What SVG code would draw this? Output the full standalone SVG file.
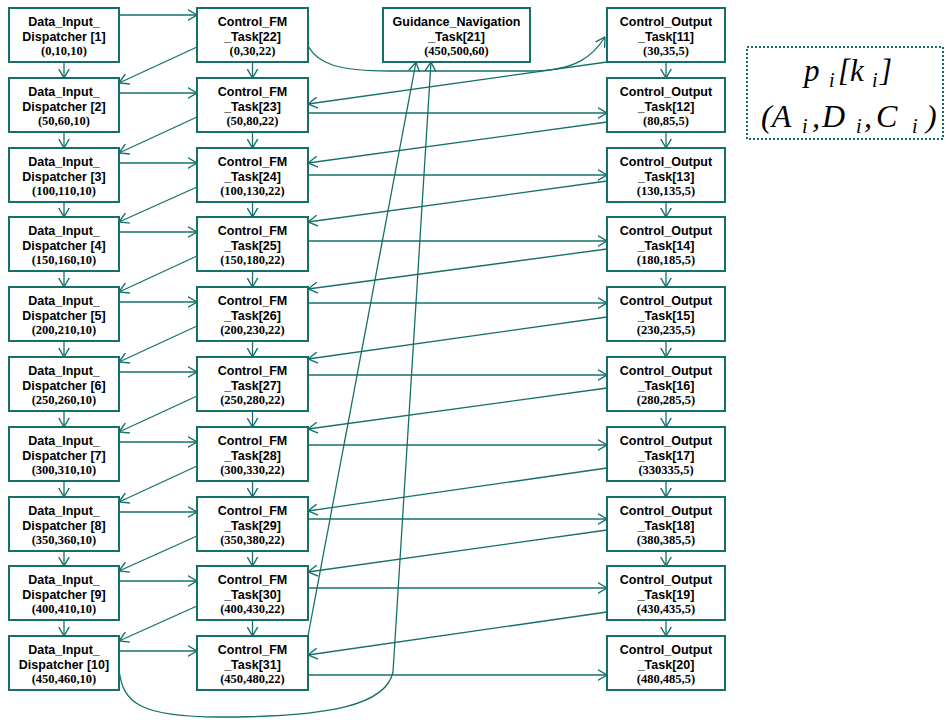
<svg xmlns="http://www.w3.org/2000/svg" width="946" height="720" viewBox="0 0 946 720">
  <defs>
    <style>
      .box { fill: #ffffff; stroke: #16706a; stroke-width: 2; }
      .lbl { font-family: "Liberation Sans", Arial, sans-serif; font-weight: bold; font-size: 12.5px; fill: #000; text-anchor: middle; }
      .num { font-family: "Liberation Serif", "Times New Roman", serif; font-weight: bold; font-size: 12.5px; fill: #000; text-anchor: middle; }
      .edge { fill: none; stroke: #16706a; stroke-width: 1.3; marker-end: url(#arrow); }
      .legend { fill: none; stroke: #16706a; stroke-width: 2; stroke-dasharray: 2 2; }
      .math { font-family: "Liberation Serif", "Times New Roman", serif; font-style: italic; fill: #000; }
    </style>
    <marker id="arrow" markerUnits="userSpaceOnUse" viewBox="0 0 10 12" refX="9.5" refY="6" markerWidth="10" markerHeight="12" orient="auto">
      <path d="M0,0.5 L9.5,6 L0,11.5" fill="none" stroke="#16706a" stroke-width="1.4"/>
    </marker>
  </defs>

  <rect width="946" height="720" fill="#ffffff"/>

  <!-- connectors -->
  <g id="connectors">
    <!-- Data_Input_Dispatcher chain -->
    <line class="edge" x1="64" y1="62" x2="64" y2="78"/>
    <line class="edge" x1="64" y1="132" x2="64" y2="148"/>
    <line class="edge" x1="64" y1="202" x2="64" y2="217"/>
    <line class="edge" x1="64" y1="271" x2="64" y2="287"/>
    <line class="edge" x1="64" y1="341" x2="64" y2="357"/>
    <line class="edge" x1="64" y1="411" x2="64" y2="427"/>
    <line class="edge" x1="64" y1="481" x2="64" y2="497"/>
    <line class="edge" x1="64" y1="551" x2="64" y2="566"/>
    <line class="edge" x1="64" y1="620" x2="64" y2="636"/>
    <!-- Control_FM chain -->
    <line class="edge" x1="252.5" y1="62" x2="252.5" y2="78"/>
    <line class="edge" x1="252.5" y1="132" x2="252.5" y2="148"/>
    <line class="edge" x1="252.5" y1="202" x2="252.5" y2="217"/>
    <line class="edge" x1="252.5" y1="271" x2="252.5" y2="287"/>
    <line class="edge" x1="252.5" y1="341" x2="252.5" y2="357"/>
    <line class="edge" x1="252.5" y1="411" x2="252.5" y2="427"/>
    <line class="edge" x1="252.5" y1="481" x2="252.5" y2="497"/>
    <line class="edge" x1="252.5" y1="551" x2="252.5" y2="566"/>
    <line class="edge" x1="252.5" y1="620" x2="252.5" y2="636"/>
    <!-- Control_Output chain -->
    <line class="edge" x1="666" y1="62" x2="666" y2="78"/>
    <line class="edge" x1="666" y1="132" x2="666" y2="148"/>
    <line class="edge" x1="666" y1="202" x2="666" y2="217"/>
    <line class="edge" x1="666" y1="271" x2="666" y2="287"/>
    <line class="edge" x1="666" y1="341" x2="666" y2="357"/>
    <line class="edge" x1="666" y1="411" x2="666" y2="427"/>
    <line class="edge" x1="666" y1="481" x2="666" y2="497"/>
    <line class="edge" x1="666" y1="551" x2="666" y2="566"/>
    <line class="edge" x1="666" y1="620" x2="666" y2="636"/>

    <!-- Data_Input_Dispatcher -> Control_FM -->
    <line class="edge" x1="119" y1="15" x2="197" y2="15"/>
    <line class="edge" x1="119" y1="93" x2="197" y2="93"/>
    <line class="edge" x1="119" y1="163" x2="197" y2="163"/>
    <line class="edge" x1="119" y1="232" x2="197" y2="232"/>
    <line class="edge" x1="119" y1="302" x2="197" y2="302"/>
    <line class="edge" x1="119" y1="372" x2="197" y2="372"/>
    <line class="edge" x1="119" y1="442" x2="197" y2="442"/>
    <line class="edge" x1="119" y1="512" x2="197" y2="512"/>
    <line class="edge" x1="119" y1="581" x2="197" y2="581"/>
    <line class="edge" x1="119" y1="651" x2="197" y2="651"/>

    <!-- Control_FM -> next Data_Input_Dispatcher -->
    <line class="edge" x1="197" y1="47" x2="119" y2="83"/>
    <line class="edge" x1="197" y1="117" x2="119" y2="153"/>
    <line class="edge" x1="197" y1="187" x2="119" y2="222"/>
    <line class="edge" x1="197" y1="256" x2="119" y2="292"/>
    <line class="edge" x1="197" y1="326" x2="119" y2="362"/>
    <line class="edge" x1="197" y1="396" x2="119" y2="432"/>
    <line class="edge" x1="197" y1="466" x2="119" y2="502"/>
    <line class="edge" x1="197" y1="536" x2="119" y2="571"/>
    <line class="edge" x1="197" y1="606" x2="119" y2="641"/>

    <!-- Control_FM -> Control_Output -->
    <path class="edge" d="M308,46 C318,64 338,71 390,71 L530,71 C576,71 593,56 605,37"/>
    <line class="edge" x1="308" y1="113" x2="607" y2="113"/>
    <line class="edge" x1="308" y1="175" x2="607" y2="175"/>
    <line class="edge" x1="308" y1="241" x2="607" y2="241"/>
    <line class="edge" x1="308" y1="303" x2="607" y2="303"/>
    <line class="edge" x1="308" y1="375" x2="607" y2="375"/>
    <line class="edge" x1="308" y1="445" x2="607" y2="445"/>
    <line class="edge" x1="308" y1="519" x2="607" y2="519"/>
    <line class="edge" x1="308" y1="588" x2="607" y2="588"/>
    <line class="edge" x1="308" y1="675" x2="607" y2="675"/>

    <!-- Control_Output -> next Control_FM -->
    <line class="edge" x1="607" y1="62" x2="308" y2="104"/>
    <line class="edge" x1="607" y1="122" x2="308" y2="163"/>
    <line class="edge" x1="607" y1="181" x2="308" y2="222"/>
    <line class="edge" x1="607" y1="249" x2="308" y2="289"/>
    <line class="edge" x1="607" y1="317" x2="308" y2="359"/>
    <line class="edge" x1="607" y1="388" x2="308" y2="429"/>
    <line class="edge" x1="607" y1="468" x2="308" y2="511"/>
    <line class="edge" x1="607" y1="530" x2="308" y2="572"/>
    <line class="edge" x1="607" y1="612" x2="308" y2="655"/>

    <!-- into Guidance_Navigation -->
    <line class="edge" x1="308" y1="636" x2="416" y2="62"/>
    <path class="edge" d="M119,670 C123,702 138,717 220,717 C330,717 386,705 393,672 L431,62"/>
  </g>

  <!-- Data_Input_Dispatcher nodes -->
  <g id="data-input-1"><rect class="box" x="9" y="8" width="110" height="54"/><text class="lbl" x="64" y="26">Data_Input_</text><text class="lbl" x="64" y="40.5">Dispatcher [1]</text><text class="num" x="64" y="54.5">(0,10,10)</text></g>
  <g id="data-input-2"><rect class="box" x="9" y="78" width="110" height="54"/><text class="lbl" x="64" y="96">Data_Input_</text><text class="lbl" x="64" y="110.5">Dispatcher [2]</text><text class="num" x="64" y="124.5">(50,60,10)</text></g>
  <g id="data-input-3"><rect class="box" x="9" y="148" width="110" height="54"/><text class="lbl" x="64" y="166">Data_Input_</text><text class="lbl" x="64" y="180.5">Dispatcher [3]</text><text class="num" x="64" y="194.5">(100,110,10)</text></g>
  <g id="data-input-4"><rect class="box" x="9" y="217" width="110" height="54"/><text class="lbl" x="64" y="235">Data_Input_</text><text class="lbl" x="64" y="249.5">Dispatcher [4]</text><text class="num" x="64" y="263.5">(150,160,10)</text></g>
  <g id="data-input-5"><rect class="box" x="9" y="287" width="110" height="54"/><text class="lbl" x="64" y="305">Data_Input_</text><text class="lbl" x="64" y="319.5">Dispatcher [5]</text><text class="num" x="64" y="333.5">(200,210,10)</text></g>
  <g id="data-input-6"><rect class="box" x="9" y="357" width="110" height="54"/><text class="lbl" x="64" y="375">Data_Input_</text><text class="lbl" x="64" y="389.5">Dispatcher [6]</text><text class="num" x="64" y="403.5">(250,260,10)</text></g>
  <g id="data-input-7"><rect class="box" x="9" y="427" width="110" height="54"/><text class="lbl" x="64" y="445">Data_Input_</text><text class="lbl" x="64" y="459.5">Dispatcher [7]</text><text class="num" x="64" y="473.5">(300,310,10)</text></g>
  <g id="data-input-8"><rect class="box" x="9" y="497" width="110" height="54"/><text class="lbl" x="64" y="515">Data_Input_</text><text class="lbl" x="64" y="529.5">Dispatcher [8]</text><text class="num" x="64" y="543.5">(350,360,10)</text></g>
  <g id="data-input-9"><rect class="box" x="9" y="566" width="110" height="54"/><text class="lbl" x="64" y="584">Data_Input_</text><text class="lbl" x="64" y="598.5">Dispatcher [9]</text><text class="num" x="64" y="612.5">(400,410,10)</text></g>
  <g id="data-input-10"><rect class="box" x="9" y="636" width="110" height="54"/><text class="lbl" x="64" y="654">Data_Input_</text><text class="lbl" x="64" y="668.5">Dispatcher [10]</text><text class="num" x="64" y="682.5">(450,460,10)</text></g>

  <!-- Control_FM_Task nodes -->
  <g id="control-fm-22"><rect class="box" x="197" y="8" width="111" height="54"/><text class="lbl" x="252.5" y="26">Control_FM</text><text class="lbl" x="252.5" y="40.5">_Task[22]</text><text class="num" x="252.5" y="54.5">(0,30,22)</text></g>
  <g id="control-fm-23"><rect class="box" x="197" y="78" width="111" height="54"/><text class="lbl" x="252.5" y="96">Control_FM</text><text class="lbl" x="252.5" y="110.5">_Task[23]</text><text class="num" x="252.5" y="124.5">(50,80,22)</text></g>
  <g id="control-fm-24"><rect class="box" x="197" y="148" width="111" height="54"/><text class="lbl" x="252.5" y="166">Control_FM</text><text class="lbl" x="252.5" y="180.5">_Task[24]</text><text class="num" x="252.5" y="194.5">(100,130,22)</text></g>
  <g id="control-fm-25"><rect class="box" x="197" y="217" width="111" height="54"/><text class="lbl" x="252.5" y="235">Control_FM</text><text class="lbl" x="252.5" y="249.5">_Task[25]</text><text class="num" x="252.5" y="263.5">(150,180,22)</text></g>
  <g id="control-fm-26"><rect class="box" x="197" y="287" width="111" height="54"/><text class="lbl" x="252.5" y="305">Control_FM</text><text class="lbl" x="252.5" y="319.5">_Task[26]</text><text class="num" x="252.5" y="333.5">(200,230,22)</text></g>
  <g id="control-fm-27"><rect class="box" x="197" y="357" width="111" height="54"/><text class="lbl" x="252.5" y="375">Control_FM</text><text class="lbl" x="252.5" y="389.5">_Task[27]</text><text class="num" x="252.5" y="403.5">(250,280,22)</text></g>
  <g id="control-fm-28"><rect class="box" x="197" y="427" width="111" height="54"/><text class="lbl" x="252.5" y="445">Control_FM</text><text class="lbl" x="252.5" y="459.5">_Task[28]</text><text class="num" x="252.5" y="473.5">(300,330,22)</text></g>
  <g id="control-fm-29"><rect class="box" x="197" y="497" width="111" height="54"/><text class="lbl" x="252.5" y="515">Control_FM</text><text class="lbl" x="252.5" y="529.5">_Task[29]</text><text class="num" x="252.5" y="543.5">(350,380,22)</text></g>
  <g id="control-fm-30"><rect class="box" x="197" y="566" width="111" height="54"/><text class="lbl" x="252.5" y="584">Control_FM</text><text class="lbl" x="252.5" y="598.5">_Task[30]</text><text class="num" x="252.5" y="612.5">(400,430,22)</text></g>
  <g id="control-fm-31"><rect class="box" x="197" y="636" width="111" height="54"/><text class="lbl" x="252.5" y="654">Control_FM</text><text class="lbl" x="252.5" y="668.5">_Task[31]</text><text class="num" x="252.5" y="682.5">(450,480,22)</text></g>

  <!-- Guidance_Navigation_Task node -->
  <g id="guidance-navigation-21"><rect class="box" x="383" y="8" width="147" height="54"/><text class="lbl" x="456.5" y="26">Guidance_Navigation</text><text class="lbl" x="456.5" y="40.5">_Task[21]</text><text class="num" x="456.5" y="54.5">(450,500,60)</text></g>

  <!-- Control_Output_Task nodes -->
  <g id="control-output-11"><rect class="box" x="607" y="8" width="118" height="54"/><text class="lbl" x="666" y="26">Control_Output</text><text class="lbl" x="666" y="40.5">_Task[11]</text><text class="num" x="666" y="54.5">(30,35,5)</text></g>
  <g id="control-output-12"><rect class="box" x="607" y="78" width="118" height="54"/><text class="lbl" x="666" y="96">Control_Output</text><text class="lbl" x="666" y="110.5">_Task[12]</text><text class="num" x="666" y="124.5">(80,85,5)</text></g>
  <g id="control-output-13"><rect class="box" x="607" y="148" width="118" height="54"/><text class="lbl" x="666" y="166">Control_Output</text><text class="lbl" x="666" y="180.5">_Task[13]</text><text class="num" x="666" y="194.5">(130,135,5)</text></g>
  <g id="control-output-14"><rect class="box" x="607" y="217" width="118" height="54"/><text class="lbl" x="666" y="235">Control_Output</text><text class="lbl" x="666" y="249.5">_Task[14]</text><text class="num" x="666" y="263.5">(180,185,5)</text></g>
  <g id="control-output-15"><rect class="box" x="607" y="287" width="118" height="54"/><text class="lbl" x="666" y="305">Control_Output</text><text class="lbl" x="666" y="319.5">_Task[15]</text><text class="num" x="666" y="333.5">(230,235,5)</text></g>
  <g id="control-output-16"><rect class="box" x="607" y="357" width="118" height="54"/><text class="lbl" x="666" y="375">Control_Output</text><text class="lbl" x="666" y="389.5">_Task[16]</text><text class="num" x="666" y="403.5">(280,285,5)</text></g>
  <g id="control-output-17"><rect class="box" x="607" y="427" width="118" height="54"/><text class="lbl" x="666" y="445">Control_Output</text><text class="lbl" x="666" y="459.5">_Task[17]</text><text class="num" x="666" y="473.5">(330335,5)</text></g>
  <g id="control-output-18"><rect class="box" x="607" y="497" width="118" height="54"/><text class="lbl" x="666" y="515">Control_Output</text><text class="lbl" x="666" y="529.5">_Task[18]</text><text class="num" x="666" y="543.5">(380,385,5)</text></g>
  <g id="control-output-19"><rect class="box" x="607" y="566" width="118" height="54"/><text class="lbl" x="666" y="584">Control_Output</text><text class="lbl" x="666" y="598.5">_Task[19]</text><text class="num" x="666" y="612.5">(430,435,5)</text></g>
  <g id="control-output-20"><rect class="box" x="607" y="636" width="118" height="54"/><text class="lbl" x="666" y="654">Control_Output</text><text class="lbl" x="666" y="668.5">_Task[20]</text><text class="num" x="666" y="682.5">(480,485,5)</text></g>

  <!-- notation key -->
  <g id="legend">
    <rect class="legend" x="747" y="47" width="196" height="92"/>
    <text class="math" font-size="31"><tspan x="804" y="81">p</tspan><tspan x="829" y="87" font-size="20">i</tspan><tspan x="838" y="81">[k</tspan><tspan x="872" y="87" font-size="20">i</tspan><tspan x="880" y="81">]</tspan></text>
    <text class="math" font-size="32"><tspan x="761" y="127">(A</tspan><tspan x="802" y="133" font-size="20">i</tspan><tspan x="812" y="127">,</tspan><tspan x="822" y="127">D</tspan><tspan x="856" y="133" font-size="20">i</tspan><tspan x="864" y="127">,</tspan><tspan x="876" y="127">C</tspan><tspan x="912" y="133" font-size="20">i</tspan><tspan x="926" y="127">)</tspan></text>
  </g>
</svg>
